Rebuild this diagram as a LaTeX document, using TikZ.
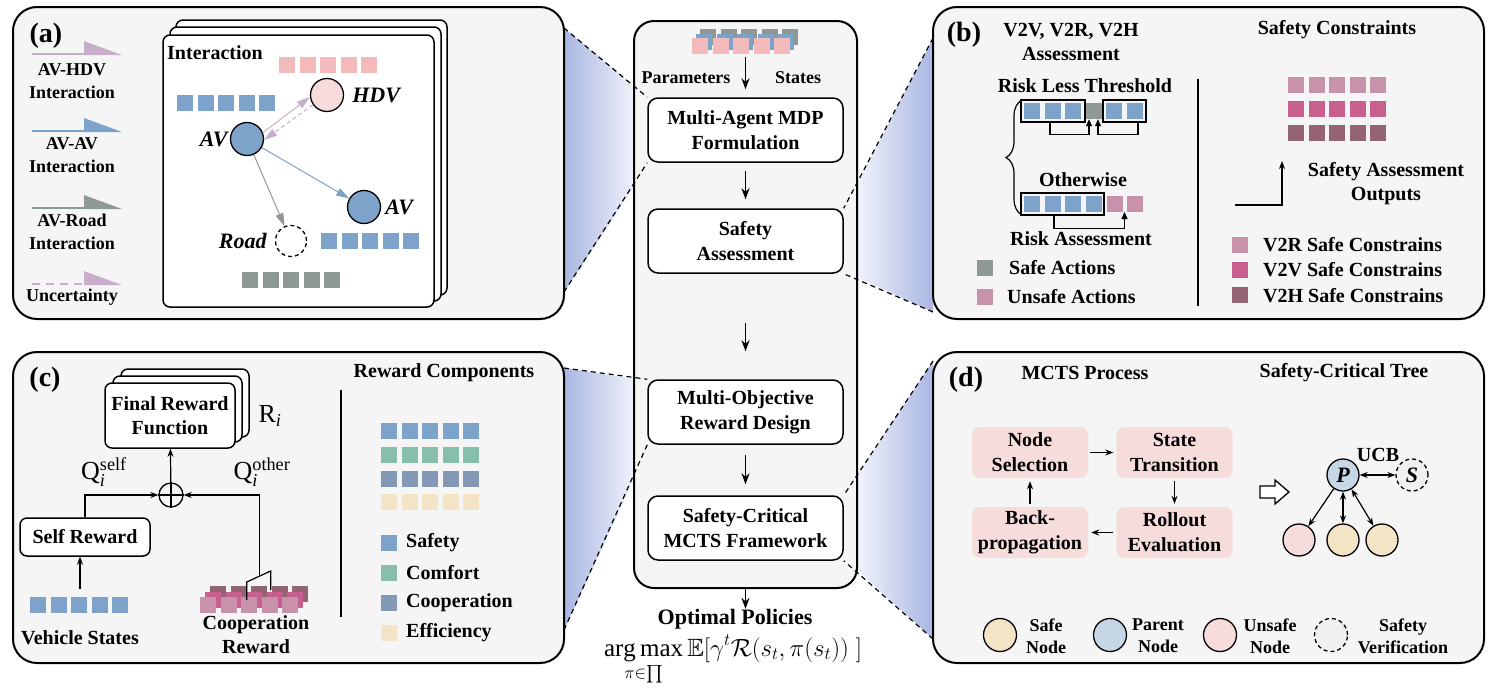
\documentclass[tikz,border=0pt]{standalone}
\usepackage{fontspec}
\usepackage{amsmath,amssymb}
\setmainfont{Liberation Serif}
\usetikzlibrary{arrows.meta,calc,decorations.pathreplacing}

\definecolor{panelgray}{HTML}{F5F5F5}
\definecolor{wedgeblue}{HTML}{A9B6E2}
\definecolor{sqblue}{HTML}{7DA3CA}
\definecolor{sqpink}{HTML}{F2BABA}
\definecolor{sqgray}{HTML}{8E9995}
\definecolor{hdvfill}{HTML}{F8DCDC}
\definecolor{hdvline}{HTML}{C9AECB}
\definecolor{vtwor}{HTML}{C892AA}
\definecolor{vtwov}{HTML}{C8608F}
\definecolor{vtwoh}{HTML}{946475}
\definecolor{comfort}{HTML}{88BFAC}
\definecolor{coop}{HTML}{8399B5}
\definecolor{effic}{HTML}{F3E4C5}
\definecolor{mctsfill}{HTML}{F7DCDC}
\definecolor{parentfill}{HTML}{C6D6E6}
\definecolor{verifill}{HTML}{F0F0F0}

% five squares in a row, (#2,#3) is the top left corner
\def\sqrow#1(#2,#3){\foreach \k in {0,...,4}{\fill[#1] ({#2+20.6*\k},#3) rectangle ++(16,16);}}

\tikzset{
  panel/.style={draw, line width=2pt, rounded corners=24pt, fill=panelgray},
  card/.style={draw, line width=1.5pt, rounded corners=7pt, fill=white},
  stagebox/.style={draw, line width=1.5pt, rounded corners=10pt, fill=white, minimum width=195pt, minimum height=64pt, align=center, font=\fontsize{20}{25}\selectfont\bfseries},
  mctsbox/.style={fill=mctsfill, rounded corners=8pt, minimum width=116pt, minimum height=51pt, align=center, inner sep=0pt, font=\fontsize{20}{25}\selectfont\bfseries},
  txt/.style={inner sep=0pt, align=center, font=\fontsize{20}{24}\selectfont\bfseries},
  smalltxt/.style={inner sep=0pt, align=center, font=\fontsize{18}{23}\selectfont\bfseries},
  plabel/.style={inner sep=0pt, font=\fontsize{28}{30}\selectfont\bfseries},
  agent/.style={circle, draw, line width=1.3pt, minimum size=33pt, inner sep=0pt},
  treenode/.style={circle, draw, line width=1.3pt, minimum size=32pt, inner sep=0pt, font=\fontsize{22}{24}\selectfont\bfseries\itshape},
  ital/.style={inner sep=0pt, font=\fontsize{22}{24}\selectfont\bfseries\itshape},
  flow/.style={line width=1.4pt, -{Stealth[length=11pt,width=8pt]}},
  flowsm/.style={line width=1.2pt, -{Stealth[length=8pt,width=6pt]}},
  both/.style={line width=1.2pt, {Stealth[length=8pt,width=6pt]}-{Stealth[length=8pt,width=6pt]}},
  tinyflow/.style={line width=1.2pt, -{Triangle[length=7pt,width=6pt]}},
  link/.style={line width=1pt, -{Triangle[length=13pt,width=8pt]}},
  zoomline/.style={line width=1.2pt, dash pattern=on 5pt off 4pt},
}

\begin{document}
\begin{tikzpicture}[x=1pt,y=-1pt]
  %%%%% START %%%%%
  \useasboundingbox (0,0) rectangle (1494,691);

  \coordinate (a-top) at (564,28);
  \coordinate (a-bot) at (564,292);
  \coordinate (b-top) at (933,38);
  \coordinate (b-bot) at (933,312);
  \coordinate (c-top) at (564,368);
  \coordinate (c-bot) at (564,630);
  \coordinate (d-top) at (933,361);
  \coordinate (d-bot) at (933,639);

  % zoom wedges
  \shade[left color=wedgeblue, right color=white] (a-top) -- (648,98) -- (650,163) -- (a-bot) -- cycle;
  \shade[left color=white, right color=wedgeblue] (843,211) -- (b-top) -- (b-bot) -- (843,271) -- cycle;
  \shade[left color=wedgeblue, right color=white] (c-top) -- (648,381) -- (650,445) -- (c-bot) -- cycle;
  \shade[left color=white, right color=wedgeblue] (843,496) -- (d-top) -- (d-bot) -- (843,557) -- cycle;

  \draw[panel] (13,7) rectangle (564,319);
  \draw[panel] (933,7) rectangle (1484,319);
  \draw[panel] (13,352) rectangle (564,663);
  \draw[panel] (933,352) rectangle (1484,663);

  %%%%% middle column %%%%%
  \node[draw, line width=2pt, rounded corners=20pt, fill=panelgray, minimum width=223pt, minimum height=567pt] (col) at (745.5,304.5) {};

  \node[stagebox] (mdp) at (745.5,130) {Multi-Agent MDP\\Formulation};
  \node[stagebox] (sa) at (745.5,241) {Safety\\Assessment};
  \node[stagebox] (mo) at (745.5,412) {Multi-Objective\\Reward Design};
  \node[stagebox] (mcts) at (745.5,528) {Safety-Critical\\MCTS Framework};

  \draw[zoomline] (a-top) -- (mdp.north west);
  \draw[zoomline] (a-bot) -- (mdp.south west);
  \draw[zoomline] (b-top) -- (sa.north east);
  \draw[zoomline] (b-bot) -- (sa.south east);
  \draw[zoomline] (c-top) -- (mo.north west);
  \draw[zoomline] (c-bot) -- (mo.south west);
  \draw[zoomline] (d-top) -- (mcts.north east);
  \draw[zoomline] (d-bot) -- (mcts.south east);

  \sqrow{sqgray}(700,29);
  \sqrow{sqblue}(696,34);
  \sqrow{sqpink}(692,38);
  \node[smalltxt] (param) at (686,78) {Parameters};
  \node[smalltxt] (states) at (798,78) {States};
  \coordinate (inflow) at (745.5,57);

  \draw[flow, shorten >=8pt] (inflow) -- (mdp);
  \draw[flow, shorten <=8pt, shorten >=9pt] (mdp) -- (sa);
  \draw[flow, shorten <=49pt, shorten >=28pt] (sa) -- (mo);
  \draw[flow, shorten <=10pt, shorten >=11pt] (mo) -- (mcts);

  \node[txt, font=\fontsize{22}{24}\selectfont\bfseries] (opt) at (735,619) {Optimal Policies};
  \draw[flow] (col.south) -- (col.south |- opt.north);
  \node[anchor=north, inner sep=0pt, font=\fontsize{25}{28}\selectfont] (pol) at (733,635)
    {$\displaystyle\operatorname*{arg\,max}_{\pi\in\prod}\mathbb{E}[\gamma^t\mathcal{R}(s_t,\pi(s_t))\;]$};

  %%%%% (a) interaction %%%%%
  \node[plabel] at (46,36) {(a)};

  \draw[line width=2pt, hdvline] (32,54) -- (86,54);
  \fill[hdvline] (84,41) -- (122,55) -- (84,55) -- cycle;
  \node[smalltxt] at (72,81) {AV-HDV\\Interaction};
  \draw[line width=2pt, sqblue] (32,131) -- (86,131);
  \fill[sqblue] (84,118) -- (122,132) -- (84,132) -- cycle;
  \node[smalltxt] at (72,155) {AV-AV\\Interaction};
  \draw[line width=2pt, sqgray] (32,208) -- (86,208);
  \fill[sqgray] (84,195) -- (122,209) -- (84,209) -- cycle;
  \node[smalltxt] at (72,232) {AV-Road\\Interaction};
  \draw[line width=2pt, hdvline, dash pattern=on 8pt off 6pt] (32,284) -- (86,284);
  \fill[hdvline] (84,271) -- (122,285) -- (84,285) -- cycle;
  \node[smalltxt] at (72,297) {Uncertainty};

  \draw[card] (176,20) rectangle (447,295);
  \draw[card] (170,27) rectangle (441,301);
  \draw[card] (163,35) rectangle (434,307);
  \node[txt, anchor=west] at (167,53) {Interaction};

  \sqrow{sqpink}(279,57);
  \sqrow{sqblue}(177,95);
  \sqrow{sqblue}(321,233);
  \sqrow{sqgray}(242,272);

  \node[agent, fill=hdvfill] (hdv) at (327,95) {};
  \node[agent, fill=sqblue] (av1) at (247,139) {};
  \node[agent, fill=sqblue] (av2) at (364,207) {};
  \node[agent, fill=white, dash pattern=on 4pt off 3pt, minimum size=31pt] (road) at (291,241) {};
  \node[ital, anchor=west] at ([xshift=8pt]hdv.east) {HDV};
  \node[ital, anchor=east] at ([xshift=-2pt]av1.west) {AV};
  \node[ital, anchor=west] at ([xshift=4pt]av2.east) {AV};
  \node[ital, anchor=east] at ([xshift=-8pt]road.west) {Road};

  \draw[link, hdvline] (av1.22) -- (hdv.187);
  \draw[link, hdvline, dash pattern=on 4pt off 3pt] (hdv.215) -- (av1.357);
  \draw[link, sqblue] (av1) -- (av2);
  \draw[link, sqgray] (av1) -- (road);

  %%%%% (b) safety assessment %%%%%
  \node[plabel] at (964,35) {(b)};
  \node[txt] at (1071,42) {V2V, V2R, V2H\\Assessment};
  \node[txt] at (1337,30) {Safety Constraints};
  \node[txt] at (1085,86) {Risk Less Threshold};

  \foreach \sx in {1024,1044.5,1065,1106,1126.5} {\fill[sqblue] (\sx,103) rectangle ++(16,16);}
  \node[fill=sqgray, minimum width=18pt, minimum height=16pt, inner sep=0pt] (gs) at (1094,111) {};
  \node[draw, line width=1.5pt, minimum width=64pt, minimum height=22pt, inner sep=0pt] (rl1) at (1053,111) {};
  \node[draw, line width=1.5pt, minimum width=43pt, minimum height=22pt, inner sep=0pt] (rl2) at (1124.5,111) {};
  \draw[tinyflow] ([xshift=-3pt]rl1.south) -- ++(0,12) -| ([xshift=-5pt]gs.south);
  \draw[tinyflow] ([xshift=13.5pt]rl2.south) -- ++(0,12) -| ([xshift=4pt]gs.south);

  \draw[decorate, decoration={brace, amplitude=16pt}, line width=1.2pt] (1022,215) -- (1022,100);
  \node[txt] at (1083,180) {Otherwise};

  \foreach \sx in {1024,1044.5,1065,1085.5} {\fill[sqblue] (\sx,196) rectangle ++(16,16);}
  \fill[vtwor] (1107,196) rectangle ++(16,16);
  \fill[vtwor] (1127,196) rectangle ++(16,16);
  \coordinate (pk) at (1124.5,212);
  \node[draw, line width=1.5pt, minimum width=83pt, minimum height=22pt, inner sep=0pt] (rl3) at (1062.5,204) {};
  \draw[tinyflow] ([xshift=-8.5pt]rl3.south) -- ++(0,13) -| (pk);
  \node[txt] at (1081,239) {Risk Assessment};

  \fill[sqgray] (977,260) rectangle ++(16,16);
  \node[txt, anchor=west] at (1009,268) {Safe Actions};
  \fill[vtwor] (977,289) rectangle ++(16,16);
  \node[txt, anchor=west] at (1007,297) {Unsafe Actions};

  \draw[line width=1.5pt] (1198,79) -- (1198,306);

  \sqrow{vtwor}(1288,77);
  \sqrow{vtwov}(1288,101);
  \sqrow{vtwoh}(1288,125);
  \coordinate (elb) at (1235,205);
  \coordinate (elbend) at (1282,161);
  \draw[flowsm] (elb) -| (elbend);
  \node[txt] at (1386,184) {Safety Assessment\\Outputs};

  \fill[vtwor] (1232,237) rectangle ++(16,16);
  \node[txt, anchor=west] at (1263,245) {V2R Safe Constrains};
  \fill[vtwov] (1232,262) rectangle ++(16,16);
  \node[txt, anchor=west] at (1263,270) {V2V Safe Constrains};
  \fill[vtwoh] (1232,287) rectangle ++(16,16);
  \node[txt, anchor=west] at (1263,296) {V2H Safe Constrains};

  %%%%% (c) reward design %%%%%
  \node[plabel] at (45,380) {(c)};

  \draw[card] (121,369) rectangle (249,437);
  \draw[card] (113,376) rectangle (242,442);
  \node[card, txt, minimum width=130pt, minimum height=65pt] (frf) at (170,415.5) {Final Reward\\Function};
  \node[inner sep=0pt, font=\fontsize{26}{28}\selectfont] at (270,416) {R$_{\textit{i}}$};

  \node[circle, draw, line width=1.3pt, minimum size=24pt, inner sep=0pt] (plus) at (171,495) {};
  \draw[line width=1.3pt] (plus.north) -- (plus.south) (plus.west) -- (plus.east);
  \draw[flowsm] (plus) -- (frf);

  \node[draw, line width=1.5pt, rounded corners=7pt, fill=white, txt, minimum width=130pt, minimum height=38pt] (selfr) at (85,537) {Self Reward};
  \draw[flowsm] (selfr.north) |- (plus.west);
  \node[inner sep=0pt, font=\fontsize{26}{28}\selectfont] at (104,472) {Q$^{\text{self}}_{\textit{i}}$};
  \node[inner sep=0pt, font=\fontsize{26}{28}\selectfont] at (262,472) {Q$^{\text{other}}_{\textit{i}}$};

  \sqrow{sqblue}(30,597);
  \coordinate (vsq) at (80,589);
  \draw[flowsm] (vsq) -- (vsq |- selfr.south);
  \node[txt] at (80,638) {Vehicle States};

  \sqrow{vtwoh}(210,586);
  \sqrow{vtwov}(205,592);
  \sqrow{vtwor}(200,597);
  \coordinate (cfork) at (259.5,576);
  \draw[flowsm] (cfork) |- (plus.east);
  \draw[line width=1.2pt] (246.7,600) -- (246.7,582) -- (270.7,571) -- (270.7,590);
  \node[txt] at (256,635) {Cooperation\\Reward};

  \draw[line width=1.5pt] (341,390) -- (341,617);
  \node[txt] at (444,373) {Reward Components};
  \sqrow{sqblue}(381,423);
  \sqrow{comfort}(381,447);
  \sqrow{coop}(381,471);
  \sqrow{effic}(381,494);

  \fill[sqblue] (381,535) rectangle ++(16,16);
  \node[txt, anchor=west] at (406,543) {Safety};
  \fill[comfort] (381,565) rectangle ++(16,16);
  \node[txt, anchor=west] at (406,573) {Comfort};
  \fill[coop] (381,595) rectangle ++(16,16);
  \node[txt, anchor=west] at (406,603) {Cooperation};
  \fill[effic] (381,625) rectangle ++(16,16);
  \node[txt, anchor=west] at (406,633) {Efficiency};

  %%%%% (d) MCTS %%%%%
  \node[plabel] at (966,380) {(d)};
  \node[txt] at (1085,373) {MCTS Process};
  \node[txt] at (1344,373) {Safety-Critical Tree};

  \node[mctsbox] (nsel) at (1030,452.5) {Node\\Selection};
  \node[mctsbox] (strans) at (1174.5,452.5) {State\\Transition};
  \node[mctsbox] (bprop) at (1030,532.5) {Back-\\propagation};
  \node[mctsbox] (rollout) at (1174.5,532.5) {Rollout\\Evaluation};
  \draw[flowsm, shorten <=2pt, shorten >=3pt] (nsel) -- (strans);
  \draw[flowsm, shorten <=3pt, shorten >=3pt] (strans) -- (rollout);
  \draw[flowsm, shorten <=3pt, shorten >=3pt] (rollout) -- (bprop);
  \draw[flowsm, shorten <=3pt, shorten >=3pt] (bprop) -- (nsel);

  % hollow arrow towards the tree
  \draw[line width=1.3pt, fill=white] (1260,486) -- (1275,486) -- (1275,480) -- (1289,492) -- (1275,504) -- (1275,498) -- (1260,498) -- cycle;

  \node[treenode, fill=parentfill] (par) at (1343,475) {P};
  \node[treenode, fill=verifill, dash pattern=on 4pt off 3pt] (sv) at (1412,475) {S};
  \node[txt] at (1378,455) {UCB};
  \draw[both] (par) -- (sv);
  \node[treenode, fill=mctsfill] (ch1) at (1299,540) {};
  \node[treenode, fill=effic] (ch2) at (1343,540) {};
  \node[treenode, fill=effic] (ch3) at (1382,540) {};
  \draw[flowsm] (par) -- (ch1);
  \draw[both] (par) -- (ch2);
  \draw[both] (par) -- (ch3);

  \node[agent, fill=effic] (lsafe) at (1000,635) {};
  \node[smalltxt, font=\fontsize{18}{22}\selectfont\bfseries] at (1046,636) {Safe\\Node};
  \node[agent, fill=parentfill] (lpar) at (1110,635) {};
  \node[smalltxt, font=\fontsize{18}{22}\selectfont\bfseries] at (1158,636) {Parent\\Node};
  \node[agent, fill=mctsfill] (lunsafe) at (1220,635) {};
  \node[smalltxt, font=\fontsize{18}{22}\selectfont\bfseries] at (1270,636) {Unsafe\\Node};
  \node[agent, fill=verifill, dash pattern=on 4pt off 3pt] (lver) at (1331,635) {};
  \node[smalltxt, font=\fontsize{18}{22}\selectfont\bfseries] at (1403,636) {Safety\\Verification};

  %%%%% END %%%%%
\end{tikzpicture}
\end{document}
